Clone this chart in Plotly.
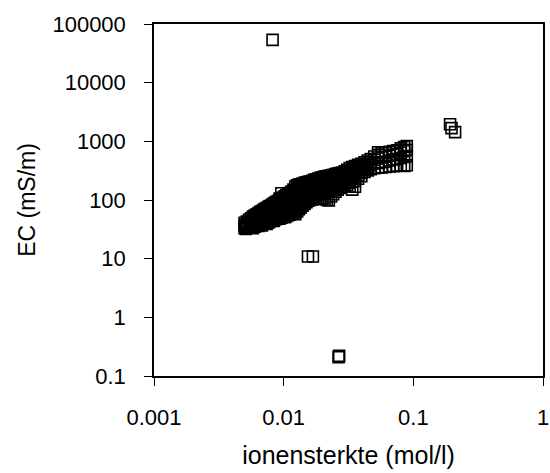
import plotly.graph_objects as go

# Main cluster: ionic strength (mol/l) per strip, and EC values (mS/m) read in that strip
strip_x = [0.0050, 0.0051, 0.0052, 0.0054, 0.0056, 0.0058, 0.0060, 0.0062, 0.0064, 0.0066,
           0.0068, 0.0070, 0.0072, 0.0074, 0.0076, 0.0078, 0.0081, 0.0084, 0.0087, 0.0090,
           0.0093, 0.0096, 0.0099, 0.0102, 0.0105, 0.0108, 0.0111, 0.0115, 0.0119, 0.0123,
           0.0127, 0.0131, 0.0135, 0.0140, 0.0145, 0.0150, 0.0155, 0.0160, 0.0166, 0.0172,
           0.0178, 0.0185, 0.0192, 0.0199, 0.0207, 0.0215, 0.0223, 0.0232, 0.0241, 0.0251,
           0.0261, 0.0272, 0.0284, 0.0296, 0.0309, 0.0323, 0.0338, 0.0355, 0.0375, 0.0397,
           0.0420, 0.0445, 0.0470, 0.0500, 0.0535, 0.0570, 0.0610, 0.0655, 0.0700, 0.0750,
           0.0800, 0.0850, 0.0890]
strip_ec = [
    [33, 37, 41], [35, 32], [39, 43, 34], [36, 41, 46], [34, 39, 44, 49],
    [37, 42, 47, 52, 33], [35, 40, 45, 50, 55], [38, 43, 48, 53, 57], [36, 41, 46, 51, 56, 60],
    [39, 44, 49, 54, 59, 63], [37, 42, 47, 52, 58, 65], [40, 45, 50, 56, 62, 68],
    [42, 47, 53, 59, 65, 71], [39, 44, 49, 55, 61, 67, 73], [41, 46, 52, 58, 64, 70, 76],
    [43, 48, 54, 60, 66, 72, 79], [45, 50, 56, 62, 69, 76, 83], [44, 52, 58, 65, 72, 80, 88],
    [47, 54, 61, 68, 75, 83, 92], [49, 56, 63, 70, 78, 87, 96],
    [48, 55, 62, 70, 79, 89, 100, 106], [50, 58, 66, 74, 83, 93, 104, 130],
    [52, 60, 68, 77, 87, 98, 110], [51, 59, 67, 76, 86, 97, 108, 116],
    [53, 61, 70, 80, 90, 101, 113, 122], [55, 64, 73, 83, 94, 106, 118, 127],
    [56, 66, 76, 87, 98, 110, 123, 132], [58, 68, 79, 90, 102, 115, 128, 140],
    [60, 71, 82, 94, 107, 120, 134, 150], [57, 66, 77, 88, 100, 113, 127, 142, 170],
    [64, 75, 86, 98, 111, 125, 140, 156, 178], [70, 80, 92, 104, 117, 131, 146, 162, 184],
    [74, 85, 97, 110, 124, 138, 153, 169, 186], [80, 91, 103, 116, 130, 145, 160, 176, 190],
    [86, 97, 109, 122, 136, 151, 166, 182, 196], [92, 103, 115, 128, 142, 157, 172, 188, 200],
    [97, 108, 120, 133, 147, 162, 178, 194, 204], [100, 112, 125, 139, 153, 168, 184, 206],
    [102, 115, 129, 144, 159, 175, 191, 212], [104, 118, 133, 148, 164, 180, 197, 220],
    [105, 121, 137, 153, 169, 186, 204, 226], [106, 123, 140, 157, 174, 192, 211, 232],
    [104, 126, 144, 162, 180, 199, 218, 238], [108, 129, 148, 167, 186, 205, 224, 244],
    [106, 132, 152, 172, 192, 212, 231, 250], [100, 136, 157, 177, 198, 218, 238, 254],
    [98, 140, 161, 182, 204, 225, 245, 258], [115, 145, 166, 188, 210, 232, 252, 264],
    [125, 150, 172, 194, 216, 238, 258, 270], [138, 156, 178, 200, 222, 244, 264, 276],
    [150, 163, 185, 207, 229, 251, 270, 282], [160, 172, 192, 214, 236, 258, 276, 288],
    [174, 180, 200, 222, 244, 266, 282, 294], [178, 196, 216, 238, 262, 288, 308],
    [180, 198, 220, 245, 272, 300, 328], [170, 200, 226, 254, 284, 318, 350],
    [150, 205, 235, 265, 298, 334, 365], [168, 212, 245, 280, 315, 350, 380],
    [230, 262, 298, 335, 372, 400], [255, 290, 330, 372, 415],
    [300, 335, 380, 440], [320, 365, 415, 470], [336, 390, 445, 500],
    [350, 420, 480, 550], [355, 430, 510, 590, 650], [360, 440, 530, 625],
    [365, 450, 545, 640], [372, 470, 570, 660], [378, 490, 590, 680],
    [383, 500, 610, 700], [385, 520, 640, 760], [380, 540, 680, 800],
    [390, 560, 720, 830],
]

# Isolated points
outlier_x = [0.00821, 0.0154, 0.0168, 0.0265, 0.0268, 0.192, 0.197, 0.210]
outlier_ec = [53600, 10.9, 10.9, 0.21, 0.22, 1960, 1680, 1435]

x_title = "ionensterkte (mol/l)"
y_title = "EC (mS/m)"
x_ticks = [0.001, 0.01, 0.1, 1]
x_ticktext = ["0.001", "0.01", "0.1", "1"]
y_ticks = [0.1, 1, 10, 100, 1000, 10000, 100000]
y_ticktext = ["0.1", "1", "10", "100", "1000", "10000", "100000"]

xs = [x for x, ys in zip(strip_x, strip_ec) for _ in ys] + outlier_x
ys = [y for ys_ in strip_ec for y in ys_] + outlier_ec

FONT = "Liberation Sans, Arial, sans-serif"
TXT = "#000000"

fig = go.Figure()
fig.add_trace(go.Scatter(
    x=xs, y=ys, mode="markers",
    marker=dict(symbol="square-open", size=11, color="black",
                line=dict(width=1.6, color="black")),
    showlegend=False, hoverinfo="skip",
))

axis_common = dict(
    showgrid=False, zeroline=False, showline=True, linecolor="black", linewidth=1.5,
    mirror=True, ticks="outside", ticklen=8, tickwidth=1, tickcolor="black",
    tickfont=dict(family=FONT, size=22, color=TXT),
)

fig.update_xaxes(type="log", range=[-3, 0], tickvals=x_ticks, ticktext=x_ticktext,
                 title=dict(text=x_title, font=dict(family=FONT, size=25, color=TXT), standoff=17),
                 ticklabelstandoff=13, **axis_common)
fig.update_yaxes(type="log", range=[-1, 5], tickvals=y_ticks, ticktext=y_ticktext,
                 title=dict(text=y_title, font=dict(family=FONT, size=23, color=TXT), standoff=10),
                 ticklabelstandoff=14, **axis_common)

fig.update_layout(
    width=550, height=473,
    margin=dict(l=154, r=7, t=24, b=97, autoexpand=False),
    paper_bgcolor="white", plot_bgcolor="white",
    font=dict(family=FONT, color=TXT),
)

fig.write_html("out.html")
